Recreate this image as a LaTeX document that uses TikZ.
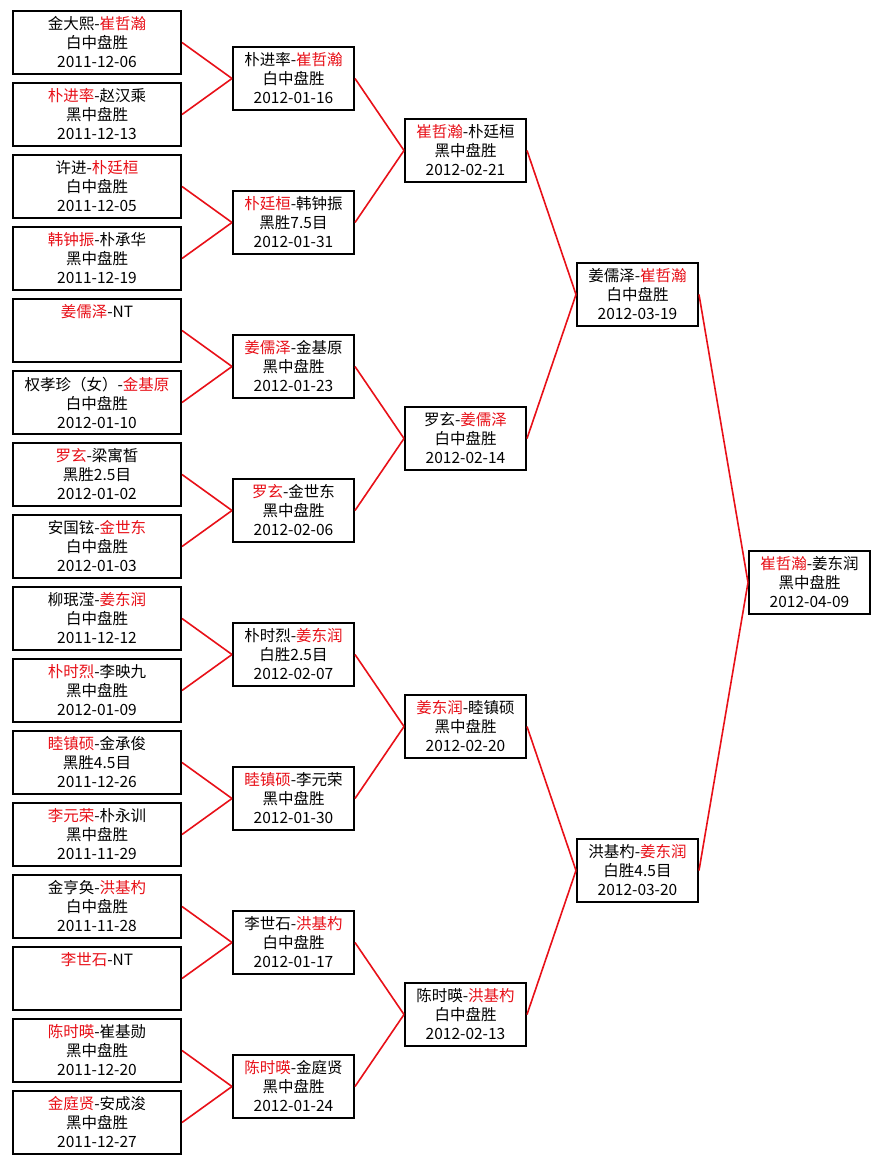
\documentclass[tikz,border=0pt]{standalone}
\usepackage{fontspec}
\setmainfont{Noto Sans CJK SC}
\definecolor{winred}{RGB}{232,16,24}
\newcommand{\win}[1]{\textcolor{winred}{#1}}
\begin{document}
\begin{tikzpicture}[x=1pt,y=-1pt,
    game/.style={draw=black,line width=2pt,align=center,inner sep=0pt,
      minimum height=63pt,font=\fontsize{15.5}{19}\selectfont},
    seed/.style={game,minimum width=168pt},
    later/.style={game,minimum width=121pt},
    link/.style={draw=winred,line width=1.6pt}]
      \useasboundingbox (0,0) rectangle (880,1165);
      \fill[white] (0,0) rectangle (880,1165);
      \draw
        (97,42.5) node[seed] (a0){金大熙-\win{崔哲瀚}\\白中盘胜\\2011-12-06}
        (97,114.5) node[seed] (a1){\win{朴进率}-赵汉乘\\黑中盘胜\\2011-12-13}
        (97,186.5) node[seed] (a2){许进-\win{朴廷桓}\\白中盘胜\\2011-12-05}
        (97,258.5) node[seed] (a3){\win{韩钟振}-朴承华\\黑中盘胜\\2011-12-19}
        (97,330.5) node[seed] (a4){\win{姜儒泽}-NT\\\phantom{0}\\\phantom{0}}
        (97,402.5) node[seed] (a5){权孝珍（女）-\win{金基原}\\白中盘胜\\2012-01-10}
        (97,474.5) node[seed] (a6){\win{罗玄}-梁寓皙\\黑胜2.5目\\2012-01-02}
        (97,546.5) node[seed] (a7){安国铉-\win{金世东}\\白中盘胜\\2012-01-03}
        (97,618.5) node[seed] (a8){柳珉滢-\win{姜东润}\\白中盘胜\\2011-12-12}
        (97,690.5) node[seed] (a9){\win{朴时烈}-李映九\\黑中盘胜\\2012-01-09}
        (97,762.5) node[seed] (a10){\win{睦镇硕}-金承俊\\黑胜4.5目\\2011-12-26}
        (97,834.5) node[seed] (a11){\win{李元荣}-朴永训\\黑中盘胜\\2011-11-29}
        (97,906.5) node[seed] (a12){金亨奂-\win{洪基杓}\\白中盘胜\\2011-11-28}
        (97,978.5) node[seed] (a13){\win{李世石}-NT\\\phantom{0}\\\phantom{0}}
        (97,1050.5) node[seed] (a14){\win{陈时暎}-崔基勋\\黑中盘胜\\2011-12-20}
        (97,1122.5) node[seed] (a15){\win{金庭贤}-安成浚\\黑中盘胜\\2011-12-27};
      \draw
        (293.5,78.5) node[later] (b0){朴进率-\win{崔哲瀚}\\白中盘胜\\2012-01-16}
        (293.5,222.5) node[later] (b1){\win{朴廷桓}-韩钟振\\黑胜7.5目\\2012-01-31}
        (293.5,366.5) node[later] (b2){\win{姜儒泽}-金基原\\黑中盘胜\\2012-01-23}
        (293.5,510.5) node[later] (b3){\win{罗玄}-金世东\\黑中盘胜\\2012-02-06}
        (293.5,654.5) node[later] (b4){朴时烈-\win{姜东润}\\白胜2.5目\\2012-02-07}
        (293.5,798.5) node[later] (b5){\win{睦镇硕}-李元荣\\黑中盘胜\\2012-01-30}
        (293.5,942.5) node[later] (b6){李世石-\win{洪基杓}\\白中盘胜\\2012-01-17}
        (293.5,1086.5) node[later] (b7){\win{陈时暎}-金庭贤\\黑中盘胜\\2012-01-24};
      \draw
        (465.5,150.5) node[later] (c0){\win{崔哲瀚}-朴廷桓\\黑中盘胜\\2012-02-21}
        (465.5,438.5) node[later] (c1){罗玄-\win{姜儒泽}\\白中盘胜\\2012-02-14}
        (465.5,726.5) node[later] (c2){\win{姜东润}-睦镇硕\\黑中盘胜\\2012-02-20}
        (465.5,1014.5) node[later] (c3){陈时暎-\win{洪基杓}\\白中盘胜\\2012-02-13}
        (637.5,294.5) node[later] (d0){姜儒泽-\win{崔哲瀚}\\白中盘胜\\2012-03-19}
        (637.5,870.5) node[later] (d1){洪基杓-\win{姜东润}\\白胜4.5目\\2012-03-20}
        (809.5,582.5) node[later] (e0){\win{崔哲瀚}-姜东润\\黑中盘胜\\2012-04-09};
      \begin{scope}[link]
        \draw (a0.east) to (b0.west);
        \draw (a1.east) to (b0.west);
        \draw (a2.east) to (b1.west);
        \draw (a3.east) to (b1.west);
        \draw (a4.east) to (b2.west);
        \draw (a5.east) to (b2.west);
        \draw (a6.east) to (b3.west);
        \draw (a7.east) to (b3.west);
        \draw (a8.east) to (b4.west);
        \draw (a9.east) to (b4.west);
        \draw (a10.east) to (b5.west);
        \draw (a11.east) to (b5.west);
        \draw (a12.east) to (b6.west);
        \draw (a13.east) to (b6.west);
        \draw (a14.east) to (b7.west);
        \draw (a15.east) to (b7.west);
        \draw (b0.east) to (c0.west);
        \draw (b1.east) to (c0.west);
        \draw (b2.east) to (c1.west);
        \draw (b3.east) to (c1.west);
        \draw (b4.east) to (c2.west);
        \draw (b5.east) to (c2.west);
        \draw (b6.east) to (c3.west);
        \draw (b7.east) to (c3.west);
        \draw (c0.east) to (d0.west);
        \draw (c1.east) to (d0.west);
        \draw (c2.east) to (d1.west);
        \draw (c3.east) to (d1.west);
        \draw (d0.east) to (e0.west);
        \draw (d1.east) to (e0.west);
      \end{scope}
    \end{tikzpicture}
\end{document}
